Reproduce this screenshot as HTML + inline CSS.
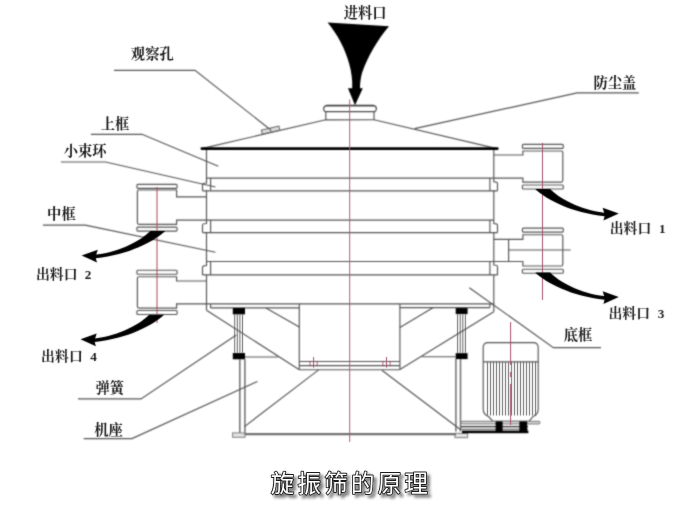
<!DOCTYPE html>
<html lang="zh"><head><meta charset="utf-8"><title>旋振筛的原理</title>
<style>
html,body{margin:0;padding:0;background:#fff;}
body{width:700px;height:510px;overflow:hidden;font-family:"Liberation Serif",serif;}
svg{display:block;}
</style></head><body>
<svg width="700" height="510" viewBox="0 0 700 510" role="img" aria-label="旋振筛的原理">
<defs>
<filter id="soft" x="0" y="0" width="700" height="510" filterUnits="userSpaceOnUse" color-interpolation-filters="sRGB"><feConvolveMatrix order="3" kernelMatrix="1 3 1 3 9 3 1 3 1" divisor="25" edgeMode="duplicate" preserveAlpha="false"/></filter>
<filter id="soft2" x="0" y="0" width="700" height="510" filterUnits="userSpaceOnUse" color-interpolation-filters="sRGB"><feConvolveMatrix order="3" kernelMatrix="1 6 1 6 36 6 1 6 1" divisor="64" edgeMode="duplicate" preserveAlpha="false"/></filter>
<filter id="sh" x="-10%" y="-30%" width="125%" height="180%"><feGaussianBlur in="SourceAlpha" stdDeviation="1.5" result="b"/><feOffset in="b" dx="2.6" dy="2.8" result="o"/><feComponentTransfer in="o" result="s"><feFuncA type="linear" slope="0.52"/></feComponentTransfer><feMerge><feMergeNode in="s"/><feMergeNode in="SourceGraphic"/></feMerge></filter>
</defs>
<rect width="700" height="510" fill="#fff"/>
<g filter="url(#soft)">
<path d="M327.6,22.5 L389,26.3 C378,39 368,56 362,73 C360.5,78 360,84 360,88.3 L362.8,88.3 L355,105.3 L348,88.3 L352.2,88.3 C352.6,80 351.5,72 349,63 C345,49 338,35 327.6,22.5 Z" fill="#000" stroke="none" stroke-width="0"/>
<path d="M326.3,105.6 L373.9,105.6 Q376.6,106.4 376.4,108.8 Q376.2,111 374.8,111.7 L325.2,111.7 Q323.7,111 323.6,108.8 Q323.6,106.4 326.3,105.6 Z" fill="none" stroke="#4a4a4a" stroke-width="1.2"/>
<line x1="326.3" y1="105.5" x2="373.9" y2="105.5" stroke="#3a3a3a" stroke-width="1.7"/>
<polyline points="325.8,111.7 325.8,119.8 374,119.7 374,111.7" fill="none" stroke="#545454" stroke-width="1.15"/>
<line x1="202.6" y1="148.4" x2="325.8" y2="119.8" stroke="#545454" stroke-width="1.15"/>
<line x1="374" y1="119.7" x2="496.9" y2="148.6" stroke="#545454" stroke-width="1.15"/>
<g transform="translate(270.6,130.1) rotate(-13)"><rect x="-9" y="-2" width="18" height="4" fill="#dedede" stroke="#666" stroke-width="1"/><line x1="0" y1="-2" x2="0" y2="2" stroke="#666"/></g>
<path d="M206.5,148.6 L206.5,183 L203.8,183.3 Q202.5,183.5 202.5,184.8 L202.5,190.8 M206.5,190.8 L206.5,223.5 L203.8,223.8 Q202.5,224 202.5,225.3 L202.5,232.6 M206.5,232.6 L206.5,265.6 L203.8,265.9 Q202.5,266.1 202.5,267.4 L202.5,274.9 M206.5,274.9 L206.5,310.2" fill="none" stroke="#545454" stroke-width="1.15"/>
<path d="M493.8,148.6 L493.8,181.8 L496.2,182.1 Q497.5,182.3 497.5,183.6 L497.5,190.8 M493.8,190.8 L493.8,223.6 L496.2,223.9 Q497.5,224.1 497.5,225.4 L497.5,232.6 M493.8,232.6 L493.8,265 L496.2,265.3 Q497.5,265.5 497.5,266.8 L497.5,274.9 M493.8,274.9 L493.8,311.8" fill="none" stroke="#545454" stroke-width="1.15"/>
<line x1="201.8" y1="148.6" x2="497.4" y2="148.6" stroke="#000" stroke-width="2.6" stroke-linecap="round"/>
<line x1="206.5" y1="178.1" x2="493.8" y2="178.1" stroke="#545454" stroke-width="1.15"/>
<line x1="202.5" y1="190.8" x2="497.5" y2="190.8" stroke="#545454" stroke-width="1.15"/>
<line x1="210.6" y1="178.1" x2="210.6" y2="190.8" stroke="#545454" stroke-width="1.15"/>
<line x1="489.9" y1="178.1" x2="489.9" y2="190.8" stroke="#545454" stroke-width="1.15"/>
<line x1="206.5" y1="220.1" x2="493.8" y2="220.1" stroke="#545454" stroke-width="1.15"/>
<line x1="202.5" y1="232.6" x2="497.5" y2="232.6" stroke="#545454" stroke-width="1.15"/>
<line x1="210.6" y1="220.1" x2="210.6" y2="232.6" stroke="#545454" stroke-width="1.15"/>
<line x1="489.9" y1="220.1" x2="489.9" y2="232.6" stroke="#545454" stroke-width="1.15"/>
<line x1="206.5" y1="261.5" x2="493.8" y2="261.5" stroke="#545454" stroke-width="1.15"/>
<line x1="202.5" y1="274.9" x2="497.5" y2="274.9" stroke="#545454" stroke-width="1.15"/>
<line x1="210.6" y1="261.5" x2="210.6" y2="274.9" stroke="#545454" stroke-width="1.15"/>
<line x1="489.9" y1="261.5" x2="489.9" y2="274.9" stroke="#545454" stroke-width="1.15"/>
<line x1="206.5" y1="303.9" x2="493.8" y2="303.9" stroke="#545454" stroke-width="1.15"/>
<line x1="210.6" y1="307.9" x2="299.3" y2="307.9" stroke="#545454" stroke-width="1.15"/>
<line x1="210.6" y1="303.9" x2="210.6" y2="307.9" stroke="#545454" stroke-width="1.15"/>
<line x1="399.9" y1="307.6" x2="489.9" y2="307.6" stroke="#545454" stroke-width="1.15"/>
<line x1="489.9" y1="303.9" x2="489.9" y2="307.6" stroke="#545454" stroke-width="1.15"/>
<line x1="206.5" y1="310.2" x2="299.3" y2="369.7" stroke="#545454" stroke-width="1.15"/>
<line x1="493.8" y1="311.8" x2="399.9" y2="369.6" stroke="#545454" stroke-width="1.15"/>
<line x1="299.3" y1="303.9" x2="299.3" y2="369.7" stroke="#545454" stroke-width="1.15"/>
<line x1="399.9" y1="303.9" x2="399.9" y2="369.6" stroke="#545454" stroke-width="1.15"/>
<line x1="299.3" y1="361.5" x2="399.9" y2="361.5" stroke="#545454" stroke-width="1.15"/>
<line x1="299.3" y1="369.7" x2="399.9" y2="369.7" stroke="#545454" stroke-width="1.15"/>
<line x1="299.3" y1="365.6" x2="399.9" y2="365.6" stroke="#545454" stroke-width="1.15"/>
<line x1="265.9" y1="307.9" x2="299.3" y2="327.1" stroke="#545454" stroke-width="1.15"/>
<line x1="433.3" y1="307.6" x2="399.9" y2="327.6" stroke="#545454" stroke-width="1.15"/>
<rect x="232.8" y="308" width="12.2" height="6.4" rx="0" fill="#000" stroke="none" stroke-width="0"/>
<rect x="232.8" y="353" width="12.2" height="6.3" rx="0" fill="#000" stroke="none" stroke-width="0"/>
<line x1="239.8" y1="359.3" x2="239.8" y2="432.9" stroke="#6e6e6e" stroke-width="1.5"/>
<line x1="244.9" y1="359.3" x2="244.9" y2="432.9" stroke="#6e6e6e" stroke-width="1.5"/>
<line x1="245" y1="357" x2="278.3" y2="357" stroke="#545454" stroke-width="1.15"/>
<rect x="232.6" y="432.9" width="12.4" height="4.4" rx="0" fill="#e4e4e4" stroke="#8c8c8c" stroke-width="1.15"/>
<rect x="455.7" y="308.1" width="11.9" height="6" rx="0" fill="#000" stroke="none" stroke-width="0"/>
<rect x="455.7" y="353.1" width="11.9" height="6" rx="0" fill="#000" stroke="none" stroke-width="0"/>
<line x1="455.9" y1="359.1" x2="455.9" y2="431.5" stroke="#6e6e6e" stroke-width="1.5"/>
<line x1="460.5" y1="359.1" x2="460.5" y2="431.5" stroke="#6e6e6e" stroke-width="1.5"/>
<line x1="421.7" y1="356.7" x2="455.7" y2="356.7" stroke="#545454" stroke-width="1.15"/>
<rect x="455" y="433.4" width="12.6" height="4.2" rx="0" fill="#e4e4e4" stroke="#8c8c8c" stroke-width="1.15"/>
<line x1="244.6" y1="434.2" x2="456" y2="434.2" stroke="#707070" stroke-width="2.2"/>
<line x1="318.6" y1="369.9" x2="244.5" y2="426.6" stroke="#545454" stroke-width="1.15"/>
<line x1="381.9" y1="370.2" x2="461" y2="430" stroke="#545454" stroke-width="1.15"/>
<rect x="136.9" y="184.3" width="40.2" height="4" rx="1" fill="none" stroke="#545454" stroke-width="1.15"/>
<rect x="136.9" y="227.1" width="40.2" height="4" rx="1" fill="none" stroke="#545454" stroke-width="1.15"/>
<path d="M206.5,196.9 L176.6,196.9 L176.6,190 L138.9,190 Q137.4,190 137.4,191.5 L137.4,222.8 Q137.4,224.3 138.9,224.3 L176.6,224.3 L176.6,220.1 L206.5,220.1" fill="none" stroke="#545454" stroke-width="1.15"/>
<rect x="136.9" y="270.2" width="40.2" height="4" rx="1" fill="none" stroke="#545454" stroke-width="1.15"/>
<rect x="136.9" y="310.5" width="40.2" height="4" rx="1" fill="none" stroke="#545454" stroke-width="1.15"/>
<path d="M206.5,281 L176.6,281 L176.6,276.7 L138.9,276.7 Q137.4,276.7 137.4,278.2 L137.4,306.6 Q137.4,308.1 138.9,308.1 L176.6,308.1 L176.6,303.9 L206.5,303.9" fill="none" stroke="#545454" stroke-width="1.15"/>
<rect x="522.4" y="144.4" width="40.9" height="4" rx="1" fill="none" stroke="#545454" stroke-width="1.15"/>
<rect x="522.4" y="185" width="40.9" height="4" rx="1" fill="none" stroke="#545454" stroke-width="1.15"/>
<path d="M493.8,155 L522.9,155 L522.9,151 L561.3,151 Q562.8,151 562.8,152.5 L562.8,180.6 Q562.8,182.1 561.3,182.1 L522.9,182.1 L522.9,178.1 L493.8,178.1" fill="none" stroke="#545454" stroke-width="1.15"/>
<rect x="522.4" y="228.1" width="40.9" height="4" rx="1" fill="none" stroke="#545454" stroke-width="1.15"/>
<rect x="522.4" y="269.2" width="40.9" height="4" rx="1" fill="none" stroke="#545454" stroke-width="1.15"/>
<path d="M493.8,239.3 L522.9,239.3 L522.9,234.7 L561.3,234.7 Q562.8,234.7 562.8,236.2 L562.8,264.5 Q562.8,266 561.3,266 L522.9,266 L522.9,261.5 L493.8,261.5" fill="none" stroke="#545454" stroke-width="1.15"/>
<line x1="508.6" y1="239.3" x2="508.6" y2="261.4" stroke="#545454" stroke-width="1.15"/>
<line x1="508.6" y1="250" x2="570.7" y2="250" stroke="#545454" stroke-width="1.15"/>
<path d="M483.2,347.6 Q483.2,342.6 488.2,342.6 L533.2,342.6 Q538.2,342.6 538.2,347.6 L538.2,409 Q538.2,414.5 533,416.5 L529,421.3 L493,421.3 L488.5,416.5 Q483.2,414.5 483.2,409 Z" fill="none" stroke="#545454" stroke-width="1.15"/>
<line x1="483.2" y1="361.8" x2="538.2" y2="361.8" stroke="#545454" stroke-width="1.15"/>
<rect x="461" y="421.4" width="79" height="2.4" rx="1.2" fill="#ddd" stroke="#8a8a8a" stroke-width="1.15"/>
<line x1="461" y1="426.6" x2="528" y2="426.6" stroke="#333" stroke-width="1.2"/>
<line x1="461" y1="429.2" x2="528" y2="429.2" stroke="#555" stroke-width="1"/>
<rect x="462" y="430.6" width="66.4" height="2.6" rx="0" fill="#000" stroke="none" stroke-width="0"/>
<rect x="495.6" y="421.4" width="7" height="11.2" rx="0" fill="#000" stroke="none" stroke-width="0"/>
<rect x="519.4" y="421.4" width="7.8" height="11.2" rx="0" fill="#000" stroke="none" stroke-width="0"/>
<polyline points="114,70.4 195,70.4 269.8,129.2" fill="none" stroke="#545454" stroke-width="1.15"/>
<polyline points="90.9,134.3 142,134.3 218.3,166.3" fill="none" stroke="#545454" stroke-width="1.15"/>
<polyline points="60.9,162 105.5,162 215.5,187" fill="none" stroke="#545454" stroke-width="1.15"/>
<polyline points="42.9,225.1 85.3,225.1 215.5,252.3" fill="none" stroke="#545454" stroke-width="1.15"/>
<polyline points="78,398.9 141,398.9 236.3,335.1" fill="none" stroke="#545454" stroke-width="1.15"/>
<polyline points="83.7,438.6 132,438.6 257.4,381.4" fill="none" stroke="#545454" stroke-width="1.15"/>
<polyline points="638.8,92.9 577.1,92.9 414.6,128.6" fill="none" stroke="#545454" stroke-width="1.15"/>
<polyline points="601,347.6 553.4,347.6 469.3,287.7" fill="none" stroke="#545454" stroke-width="1.15"/>
</g><g filter="url(#soft2)">
<line x1="349.7" y1="99.5" x2="349.7" y2="442" stroke="#ac5c7a" stroke-width="0.95"/>
<line x1="313.6" y1="357" x2="313.6" y2="367.6" stroke="#a8506e" stroke-width="1"/>
<line x1="310" y1="361" x2="310" y2="366.2" stroke="#a8506e" stroke-width="0.9"/>
<line x1="317.2" y1="361" x2="317.2" y2="366.2" stroke="#a8506e" stroke-width="0.9"/>
<line x1="386.5" y1="357" x2="386.5" y2="367.6" stroke="#a8506e" stroke-width="1"/>
<line x1="382.9" y1="361" x2="382.9" y2="366.2" stroke="#a8506e" stroke-width="0.9"/>
<line x1="390.1" y1="361" x2="390.1" y2="366.2" stroke="#a8506e" stroke-width="0.9"/>
<line x1="234.7" y1="314.4" x2="234.7" y2="353" stroke="#555" stroke-width="0.9"/>
<line x1="237.3" y1="314.4" x2="237.3" y2="353" stroke="#555" stroke-width="0.9"/>
<line x1="239.9" y1="314.4" x2="239.9" y2="353" stroke="#555" stroke-width="0.9"/>
<line x1="242.5" y1="314.4" x2="242.5" y2="353" stroke="#555" stroke-width="0.9"/>
<line x1="457.6" y1="314.1" x2="457.6" y2="353.1" stroke="#555" stroke-width="0.9"/>
<line x1="460.2" y1="314.1" x2="460.2" y2="353.1" stroke="#555" stroke-width="0.9"/>
<line x1="462.8" y1="314.1" x2="462.8" y2="353.1" stroke="#555" stroke-width="0.9"/>
<line x1="465.4" y1="314.1" x2="465.4" y2="353.1" stroke="#555" stroke-width="0.9"/>
<line x1="157" y1="187" x2="157" y2="323" stroke="#b04a58" stroke-width="1"/>
<line x1="542.5" y1="143" x2="542.5" y2="300" stroke="#a8506e" stroke-width="1"/>
<path id="arw" d="M535.2,189.1 L550.1,189.1 C558,197.5 580,210.3 604.2,212.7 L602.6,207.8 L618.8,213.5 L603.4,220.5 L604.6,216.3 C572,213 546,199.5 535.2,189.1 Z" fill="#000"/>
<use href="#arw" transform="translate(0,83.4)"/>
<use href="#arw" transform="translate(700.4,41.9) scale(-1,1)"/>
<use href="#arw" transform="translate(699.3,125.7) scale(-1,1)"/>
<line x1="487.5" y1="361.8" x2="487.5" y2="415.5" stroke="#666" stroke-width="1.0"/>
<line x1="490.5" y1="361.8" x2="490.5" y2="415.5" stroke="#666" stroke-width="1.0"/>
<line x1="493.5" y1="361.8" x2="493.5" y2="415.5" stroke="#666" stroke-width="1.0"/>
<line x1="496.5" y1="361.8" x2="496.5" y2="415.5" stroke="#666" stroke-width="1.0"/>
<line x1="499.5" y1="361.8" x2="499.5" y2="415.5" stroke="#666" stroke-width="1.0"/>
<line x1="502.5" y1="361.8" x2="502.5" y2="415.5" stroke="#666" stroke-width="1.0"/>
<line x1="505.5" y1="361.8" x2="505.5" y2="415.5" stroke="#666" stroke-width="1.0"/>
<line x1="508.5" y1="361.8" x2="508.5" y2="415.5" stroke="#666" stroke-width="1.0"/>
<line x1="511.5" y1="361.8" x2="511.5" y2="415.5" stroke="#666" stroke-width="1.0"/>
<line x1="514.5" y1="361.8" x2="514.5" y2="415.5" stroke="#666" stroke-width="1.0"/>
<line x1="517.5" y1="361.8" x2="517.5" y2="415.5" stroke="#666" stroke-width="1.0"/>
<line x1="520.5" y1="361.8" x2="520.5" y2="415.5" stroke="#666" stroke-width="1.0"/>
<line x1="523.5" y1="361.8" x2="523.5" y2="415.5" stroke="#666" stroke-width="1.0"/>
<line x1="526.5" y1="361.8" x2="526.5" y2="415.5" stroke="#666" stroke-width="1.0"/>
<line x1="529.5" y1="361.8" x2="529.5" y2="415.5" stroke="#666" stroke-width="1.0"/>
<line x1="532.5" y1="361.8" x2="532.5" y2="415.5" stroke="#666" stroke-width="1.0"/>
<line x1="535.5" y1="361.8" x2="535.5" y2="415.5" stroke="#666" stroke-width="1.0"/>
<line x1="510.6" y1="322" x2="510.6" y2="425" stroke="#a8506e" stroke-width="1"/>
<line x1="510.3" y1="365" x2="510.3" y2="384" stroke="#fff" stroke-width="1.5" stroke-dasharray="7 5"/>
<g fill="#1a1a1a" font-family="'Liberation Serif','Noto Serif CJK SC',serif" font-weight="bold" font-size="14.3">
<text x="343.69" y="18.03">进料口</text>
<text x="130.87" y="58.96">观察孔</text>
<text x="100.8" y="128.5">上框</text>
<text x="63.79" y="155.53">小束环</text>
<text x="47.11" y="219.05">中框</text>
<text x="95.4" y="393.28">弹簧</text>
<text x="94.29" y="434.93">机座</text>
<text x="593.5" y="88.48">防尘盖</text>
<text x="563.7" y="339.93">底框</text>
<text x="609.72" y="232.73" font-size="13.9">出料口</text>
<text x="658.89" y="232.76" font-size="13.2">1</text>
<text x="35.92" y="279.03" font-size="13.9">出料口</text>
<text x="84.69" y="279.11" font-size="13.2">2</text>
<text x="608.42" y="317.73" font-size="13.9">出料口</text>
<text x="657.82" y="317.7" font-size="13.2">3</text>
<text x="41.12" y="361.18" font-size="13.9">出料口</text>
<text x="90.16" y="361.12" font-size="13.2">4</text>
</g>
</g>
<text x="270.77" y="491.73" font-family="'Liberation Sans','Noto Sans CJK SC',sans-serif" font-size="23.4" letter-spacing="3.35" fill="#fff" stroke="#1c1c1c" stroke-width="1.8" stroke-linejoin="round" paint-order="stroke" filter="url(#sh)">旋振筛的原理</text>
</svg>
</body></html>
